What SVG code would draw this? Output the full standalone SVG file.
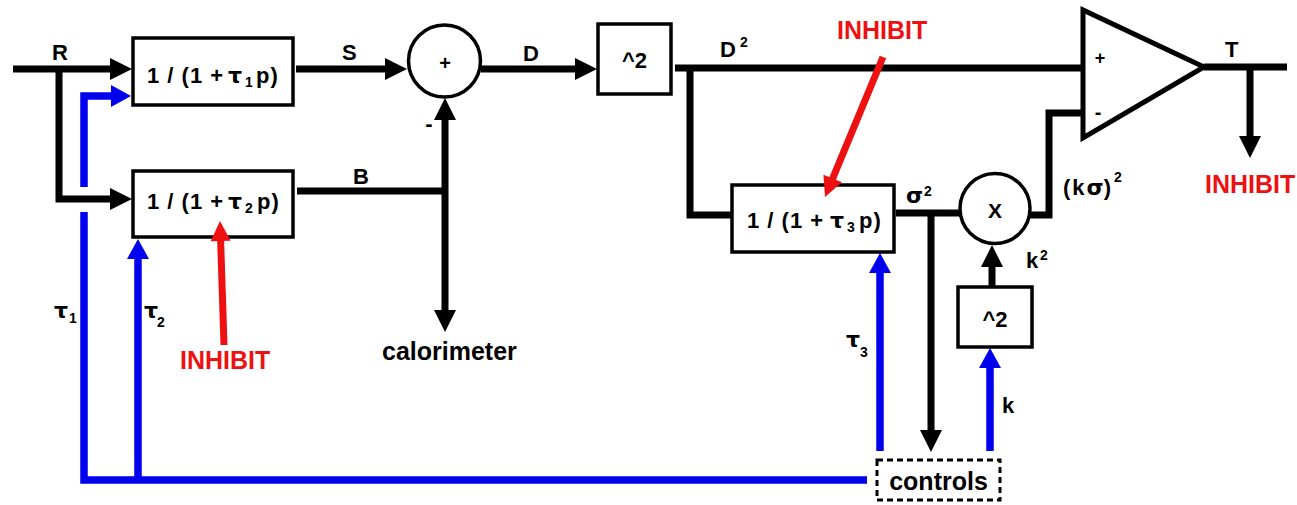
<svg xmlns="http://www.w3.org/2000/svg" width="1297" height="505" viewBox="0 0 1297 505">
<style>
text{font-family:"Liberation Sans",Arial,sans-serif;font-weight:bold;fill:#000}
.g{font-family:"DejaVu Sans","Liberation Sans",sans-serif;letter-spacing:0}
.box{fill:#fff;stroke:#000;stroke-width:3.5}
.bl{fill:none;stroke:#000;stroke-width:7;stroke-linejoin:miter}
.bu{fill:none;stroke:#0000ee;stroke-width:7.5;stroke-linejoin:miter}
.rd{fill:none;stroke:#ee1111;stroke-width:7}
.eq{font-size:22px;letter-spacing:1px}
.lb{font-size:22px}
.sub{font-size:14px;letter-spacing:0}
.big{font-size:25px}
.red{fill:#ee1111;font-size:25px}
</style>
<defs>
<marker id="ab" markerUnits="userSpaceOnUse" markerWidth="24" markerHeight="24" refX="1" refY="11" orient="auto" overflow="visible"><path d="M0,0 L22,11 L0,22 z" fill="#000"/></marker>
<marker id="au" markerUnits="userSpaceOnUse" markerWidth="24" markerHeight="24" refX="1" refY="11" orient="auto" overflow="visible"><path d="M0,0 L20,11 L0,22 z" fill="#0000ee"/></marker>
<marker id="ar" markerUnits="userSpaceOnUse" markerWidth="24" markerHeight="24" refX="1" refY="10" orient="auto" overflow="visible"><path d="M0,0 L20,10 L0,20 z" fill="#ee1111"/></marker>
</defs>
<rect width="1297" height="505" fill="#fff"/>

<g id="filter1">
<rect class="box" x="133" y="38" width="160" height="67"/>
<text class="eq" y="83"><tspan x="147">1 / (1 +</tspan><tspan class="g" x="228">τ</tspan><tspan class="sub" x="245" dy="4">1</tspan><tspan x="256" dy="-4">p)</tspan></text>
</g>
<g id="filter2">
<rect class="box" x="133" y="171" width="160" height="66"/>
<text class="eq" y="209"><tspan x="147">1 / (1 +</tspan><tspan class="g" x="228">τ</tspan><tspan class="sub" x="245" dy="4">2</tspan><tspan x="257" dy="-4">p)</tspan></text>
</g>
<g id="sum">
<circle cx="444.5" cy="61" r="36" fill="#fff" stroke="#000" stroke-width="3.5"/>
<text x="445" y="70" font-size="20" text-anchor="middle">+</text>
<text x="429" y="131" font-size="22" text-anchor="middle">-</text>
</g>
<g id="square1">
<rect class="box" x="598" y="24" width="73" height="70"/>
<text x="634.5" y="68" font-size="22" text-anchor="middle">^2</text>
</g>
<g id="filter3">
<rect class="box" x="732" y="185" width="162" height="67"/>
<text class="eq" y="228"><tspan x="747">1 / (1 +</tspan><tspan class="g" x="830">τ</tspan><tspan class="sub" x="847" dy="4">3</tspan><tspan x="859" dy="-4">p)</tspan></text>
</g>
<g id="multiply">
<circle cx="995" cy="208.5" r="35" fill="#fff" stroke="#000" stroke-width="3.5"/>
<text x="995" y="218" font-size="21" text-anchor="middle">X</text>
</g>
<g id="square2">
<rect class="box" x="958" y="287" width="74" height="60"/>
<text x="995" y="327" font-size="22" text-anchor="middle">^2</text>
</g>
<g id="comparator">
<polygon points="1083,10 1083,138 1204,67" fill="#fff" stroke="#000" stroke-width="5" stroke-linejoin="miter"/>
<text x="1100" y="64" font-size="18" text-anchor="middle">+</text>
<text x="1098" y="119" font-size="20" text-anchor="middle">-</text>
</g>
<g id="controls">
<rect x="877" y="460" width="123" height="40" fill="#fff" stroke="#000" stroke-width="3" stroke-dasharray="6 4"/>
<text class="big" x="938.5" y="490" text-anchor="middle">controls</text>
</g>
<g id="calorimeter">
<text class="big" x="382" y="360">calorimeter</text>
</g>

<g id="connectors">
<path class="bl" d="M13,69 H111" marker-end="url(#ab)"/>
<path class="bl" d="M59,69 V199 H111" marker-end="url(#ab)"/>
<path class="bl" d="M296,69 H386" marker-end="url(#ab)"/>
<path class="bl" d="M297,191 H445"/>
<path class="bl" d="M445,191 V119" marker-end="url(#ab)"/>
<path class="bl" d="M445,191 V311" marker-end="url(#ab)"/>
<path class="bl" d="M481,69 H576" marker-end="url(#ab)"/>
<path class="bl" d="M675,68 H1084"/>
<path class="bl" d="M690,68 V215 H732"/>
<path class="bl" d="M896,213 H960"/>
<path class="bl" d="M931,213 V431" marker-end="url(#ab)"/>
<path class="bl" d="M1030,215 H1049 V113 H1084"/>
<path class="bl" d="M992,287 V266" marker-end="url(#ab)"/>
<path class="bl" d="M1204,67 H1287"/>
<path class="bl" d="M1250,67 V137" marker-end="url(#ab)"/>
<path class="bu" d="M867,480 H84 V212"/>
<path class="bu" d="M84,187 V96 H112" marker-end="url(#au)"/>
<path class="bu" d="M138,480 V258" marker-end="url(#au)"/>
<path class="bu" d="M880,451 V272" marker-end="url(#au)"/>
<path class="bu" d="M990,451 V367" marker-end="url(#au)"/>
<path class="rd" d="M883,57 L832.3,179.4" marker-end="url(#ar)"/>
<path class="rd" d="M224,345 L220.6,240" marker-end="url(#ar)"/>
</g>

<g id="labels">
<text class="lb" x="52" y="60">R</text>
<text class="lb" x="342" y="60">S</text>
<text class="lb" x="523" y="61">D</text>
<text class="lb" x="353" y="184">B</text>
<text class="lb" x="720" y="57">D</text><text class="sub" x="740" y="47">2</text>
<text class="lb" x="1225" y="57">T</text>
<text class="lb" x="906" y="203"><tspan class="g">σ</tspan></text><text class="sub" x="924" y="196">2</text>
<text class="lb" x="1063" y="195" letter-spacing="2">(k<tspan class="g" letter-spacing="2">σ</tspan>)</text><text class="sub" x="1114" y="182">2</text>
<text class="lb" x="1026" y="268">k</text><text class="sub" x="1040" y="260">2</text>
<text class="lb" x="1002" y="413">k</text>
<text class="lb g" x="54" y="318">τ</text><text class="sub" x="69" y="323">1</text>
<text class="lb g" x="144" y="318">τ</text><text class="sub" x="157" y="327">2</text>
<text class="lb g" x="846" y="347">τ</text><text class="sub" x="860" y="357">3</text>
<text class="red" x="837" y="39">INHIBIT</text>
<text class="red" x="180" y="369">INHIBIT</text>
<text class="red" x="1205" y="193">INHIBIT</text>
</g>
</svg>
